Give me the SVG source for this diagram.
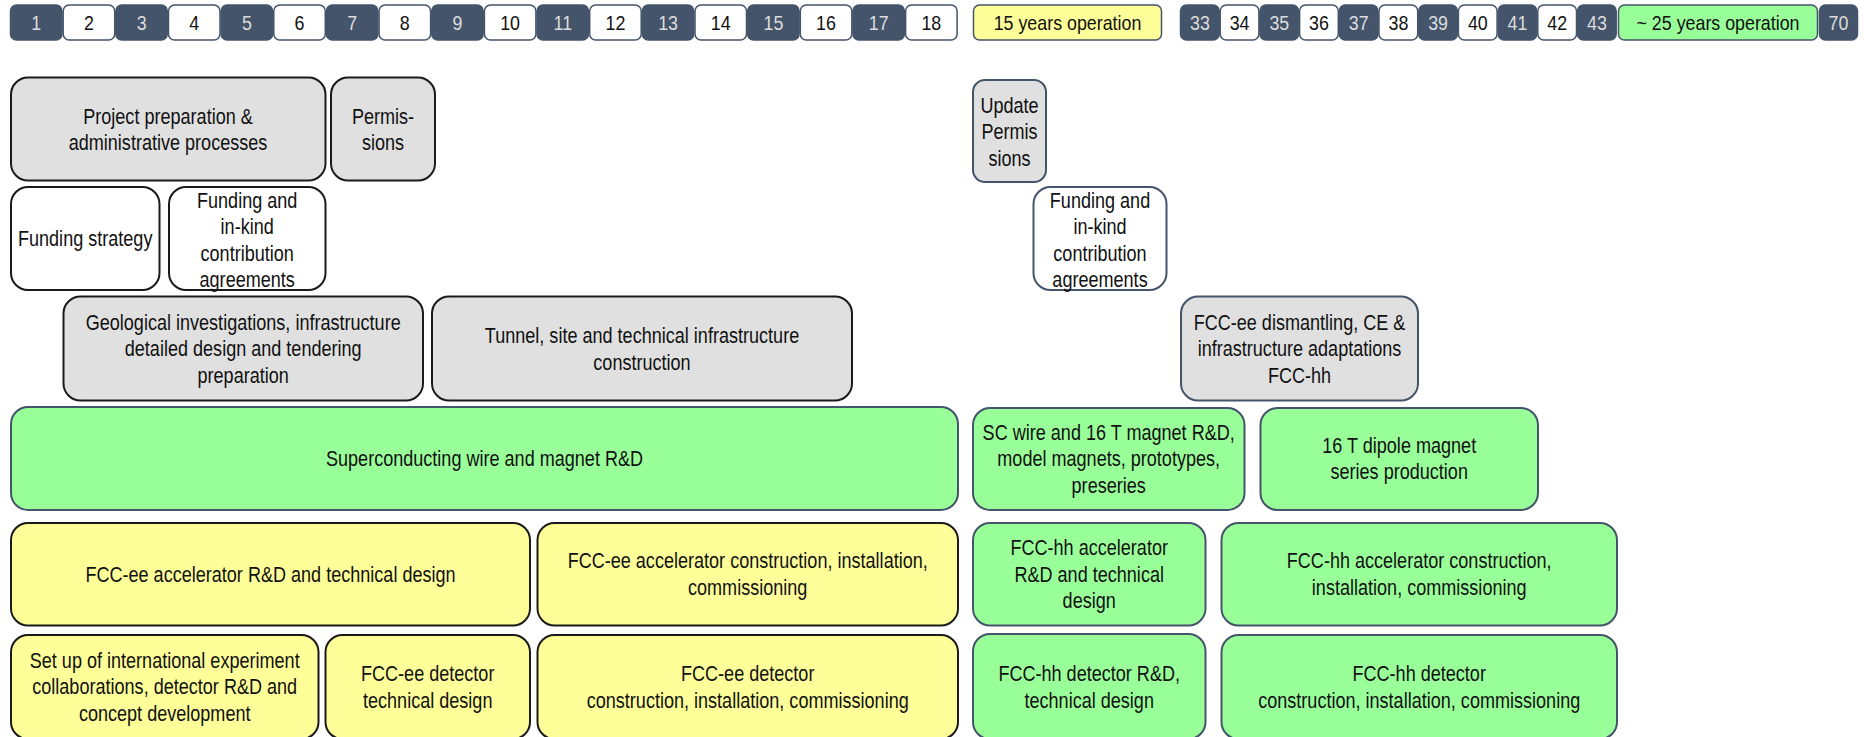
<svg xmlns="http://www.w3.org/2000/svg" width="1864" height="737" viewBox="0 0 1864 737">
<style>
text{font-family:"Liberation Sans Narrow","Liberation Sans",Arial,sans-serif;text-anchor:middle;fill:#111}
.n text{font-size:21.5px}
.t{font-size:21px}
.td{fill:#dcdcdc}
.dk{fill:#44546a;stroke:#44546a;stroke-width:1.5}
.wt{fill:#ffffff;stroke:#44546a;stroke-width:1.5}
.yl{fill:#ffff99;stroke:#44546a;stroke-width:1.5}
.gl{fill:#99ff99;stroke:#44546a;stroke-width:1.5}
.gb{fill:#e0e0e0;stroke:#1a1a1a;stroke-width:2}
.gs{fill:#e0e0e0;stroke:#44546a;stroke-width:2}
.wb{fill:#ffffff;stroke:#1a1a1a;stroke-width:2}
.ws{fill:#ffffff;stroke:#44546a;stroke-width:2}
.gg{fill:#99ff99;stroke:#44546a;stroke-width:2}
.yb{fill:#ffff99;stroke:#1a1a1a;stroke-width:2}
</style>
<g id="timeline">
<g id="y1"><rect class="dk" x="10.5" y="5" width="51.5" height="35" rx="6"/><text class="t td" transform="translate(36.2,30) scale(0.85,1)">1</text></g>
<g id="y2"><rect class="wt" x="63.2" y="5" width="51.5" height="35" rx="6"/><text class="t" transform="translate(88.9,30) scale(0.85,1)">2</text></g>
<g id="y3"><rect class="dk" x="115.8" y="5" width="51.5" height="35" rx="6"/><text class="t td" transform="translate(141.6,30) scale(0.85,1)">3</text></g>
<g id="y4"><rect class="wt" x="168.5" y="5" width="51.5" height="35" rx="6"/><text class="t" transform="translate(194.2,30) scale(0.85,1)">4</text></g>
<g id="y5"><rect class="dk" x="221.1" y="5" width="51.5" height="35" rx="6"/><text class="t td" transform="translate(246.9,30) scale(0.85,1)">5</text></g>
<g id="y6"><rect class="wt" x="273.8" y="5" width="51.5" height="35" rx="6"/><text class="t" transform="translate(299.5,30) scale(0.85,1)">6</text></g>
<g id="y7"><rect class="dk" x="326.4" y="5" width="51.5" height="35" rx="6"/><text class="t td" transform="translate(352.2,30) scale(0.85,1)">7</text></g>
<g id="y8"><rect class="wt" x="379.1" y="5" width="51.5" height="35" rx="6"/><text class="t" transform="translate(404.8,30) scale(0.85,1)">8</text></g>
<g id="y9"><rect class="dk" x="431.7" y="5" width="51.5" height="35" rx="6"/><text class="t td" transform="translate(457.5,30) scale(0.85,1)">9</text></g>
<g id="y10"><rect class="wt" x="484.4" y="5" width="51.5" height="35" rx="6"/><text class="t" transform="translate(510.1,30) scale(0.85,1)">10</text></g>
<g id="y11"><rect class="dk" x="537" y="5" width="51.5" height="35" rx="6"/><text class="t td" transform="translate(562.8,30) scale(0.85,1)">11</text></g>
<g id="y12"><rect class="wt" x="589.7" y="5" width="51.5" height="35" rx="6"/><text class="t" transform="translate(615.4,30) scale(0.85,1)">12</text></g>
<g id="y13"><rect class="dk" x="642.3" y="5" width="51.5" height="35" rx="6"/><text class="t td" transform="translate(668.1,30) scale(0.85,1)">13</text></g>
<g id="y14"><rect class="wt" x="695" y="5" width="51.5" height="35" rx="6"/><text class="t" transform="translate(720.7,30) scale(0.85,1)">14</text></g>
<g id="y15"><rect class="dk" x="747.6" y="5" width="51.5" height="35" rx="6"/><text class="t td" transform="translate(773.4,30) scale(0.85,1)">15</text></g>
<g id="y16"><rect class="wt" x="800.3" y="5" width="51.5" height="35" rx="6"/><text class="t" transform="translate(826,30) scale(0.85,1)">16</text></g>
<g id="y17"><rect class="dk" x="852.9" y="5" width="51.5" height="35" rx="6"/><text class="t td" transform="translate(878.7,30) scale(0.85,1)">17</text></g>
<g id="y18"><rect class="wt" x="905.6" y="5" width="51.5" height="35" rx="6"/><text class="t" transform="translate(931.3,30) scale(0.85,1)">18</text></g>
<g id="op15"><rect class="yl" x="973.5" y="5" width="188" height="35" rx="6"/><text class="t" transform="translate(1067.5,30) scale(0.85,1)">15 years operation</text></g>
<g id="y33"><rect class="dk" x="1180.5" y="5" width="38.7" height="35" rx="6"/><text class="t td" transform="translate(1199.9,30) scale(0.85,1)">33</text></g>
<g id="y34"><rect class="wt" x="1220.2" y="5" width="38.7" height="35" rx="6"/><text class="t" transform="translate(1239.6,30) scale(0.85,1)">34</text></g>
<g id="y35"><rect class="dk" x="1259.9" y="5" width="38.7" height="35" rx="6"/><text class="t td" transform="translate(1279.3,30) scale(0.85,1)">35</text></g>
<g id="y36"><rect class="wt" x="1299.6" y="5" width="38.7" height="35" rx="6"/><text class="t" transform="translate(1319,30) scale(0.85,1)">36</text></g>
<g id="y37"><rect class="dk" x="1339.3" y="5" width="38.7" height="35" rx="6"/><text class="t td" transform="translate(1358.7,30) scale(0.85,1)">37</text></g>
<g id="y38"><rect class="wt" x="1379" y="5" width="38.7" height="35" rx="6"/><text class="t" transform="translate(1398.4,30) scale(0.85,1)">38</text></g>
<g id="y39"><rect class="dk" x="1418.7" y="5" width="38.7" height="35" rx="6"/><text class="t td" transform="translate(1438.1,30) scale(0.85,1)">39</text></g>
<g id="y40"><rect class="wt" x="1458.4" y="5" width="38.7" height="35" rx="6"/><text class="t" transform="translate(1477.8,30) scale(0.85,1)">40</text></g>
<g id="y41"><rect class="dk" x="1498.1" y="5" width="38.7" height="35" rx="6"/><text class="t td" transform="translate(1517.5,30) scale(0.85,1)">41</text></g>
<g id="y42"><rect class="wt" x="1537.8" y="5" width="38.7" height="35" rx="6"/><text class="t" transform="translate(1557.2,30) scale(0.85,1)">42</text></g>
<g id="y43"><rect class="dk" x="1577.5" y="5" width="38.7" height="35" rx="6"/><text class="t td" transform="translate(1596.9,30) scale(0.85,1)">43</text></g>
<g id="op25"><rect class="gl" x="1618.5" y="5" width="199" height="35" rx="6"/><text class="t" transform="translate(1718,30) scale(0.85,1)">~ 25 years operation</text></g>
<g id="y70"><rect class="dk" x="1819.5" y="5" width="38" height="35" rx="6"/><text class="t td" transform="translate(1838.5,30) scale(0.85,1)">70</text></g>
</g>

<g id="project-prep"><rect class="gb" x="11" y="77.5" width="314.5" height="103" rx="17"/>
<g class="n" transform="translate(168,0) scale(0.84,1)"><text y="124">Project preparation &amp;</text><text y="150.5">administrative processes</text></g></g>
<g id="permissions"><rect class="gb" x="331" y="77.5" width="104" height="103" rx="17"/>
<g class="n" transform="translate(383,0) scale(0.84,1)"><text y="124">Permis-</text><text y="150.5">sions</text></g></g>
<g id="update-permissions"><rect class="gs" x="973" y="80" width="73" height="102" rx="12"/>
<g class="n" transform="translate(1009.5,0) scale(0.84,1)"><text y="113">Update</text><text y="139.5">Permis</text><text y="166">sions</text></g></g>

<g id="funding-strategy"><rect class="wb" x="11" y="187" width="148.5" height="103" rx="17"/>
<g class="n" transform="translate(85.2,0) scale(0.84,1)"><text y="246">Funding strategy</text></g></g>
<g id="funding-agreements-ee"><rect class="wb" x="169" y="187" width="156.5" height="103" rx="17"/>
<g class="n" transform="translate(247.2,0) scale(0.84,1)"><text y="208">Funding and</text><text y="234.5">in-kind</text><text y="261">contribution</text><text y="287.5">agreements</text></g></g>
<g id="funding-agreements-hh"><rect class="ws" x="1033.5" y="187" width="133" height="103" rx="17"/>
<g class="n" transform="translate(1100,0) scale(0.84,1)"><text y="208">Funding and</text><text y="234.5">in-kind</text><text y="261">contribution</text><text y="287.5">agreements</text></g></g>

<g id="geological"><rect class="gb" x="63.5" y="296.5" width="359.5" height="104" rx="17"/>
<g class="n" transform="translate(243.2,0) scale(0.84,1)"><text y="330">Geological investigations, infrastructure</text><text y="356.5">detailed design and tendering</text><text y="383">preparation</text></g></g>
<g id="tunnel"><rect class="gb" x="432" y="296.5" width="420" height="104" rx="17"/>
<g class="n" transform="translate(642,0) scale(0.84,1)"><text y="343.5">Tunnel, site and technical infrastructure</text><text y="370">construction</text></g></g>
<g id="dismantling"><rect class="gs" x="1181" y="296.5" width="237" height="104" rx="17"/>
<g class="n" transform="translate(1299.5,0) scale(0.84,1)"><text y="330">FCC-ee dismantling, CE &amp;</text><text y="356.5">infrastructure adaptations</text><text y="383">FCC-hh</text></g></g>

<g id="sc-wire-rd"><rect class="gg" x="11" y="407" width="947" height="103" rx="17"/>
<g class="n" transform="translate(484.5,0) scale(0.84,1)"><text y="466.5">Superconducting wire and magnet R&amp;D</text></g></g>
<g id="sc-16t"><rect class="gg" x="973" y="408" width="271.5" height="102" rx="17"/>
<g class="n" transform="translate(1108.7,0) scale(0.84,1)"><text y="440">SC wire and 16 T magnet R&amp;D,</text><text y="466.5">model magnets, prototypes,</text><text y="493">preseries</text></g></g>
<g id="dipole"><rect class="gg" x="1260.5" y="408" width="277.5" height="102" rx="17"/>
<g class="n" transform="translate(1399.2,0) scale(0.84,1)"><text y="453">16 T dipole magnet</text><text y="479.5">series production</text></g></g>

<g id="ee-acc-rd"><rect class="yb" x="11" y="523" width="519" height="102.5" rx="17"/>
<g class="n" transform="translate(270.5,0) scale(0.84,1)"><text y="582">FCC-ee accelerator R&amp;D and technical design</text></g></g>
<g id="ee-acc-construction"><rect class="yb" x="537.5" y="523" width="420.5" height="102.5" rx="17"/>
<g class="n" transform="translate(747.7,0) scale(0.84,1)"><text y="568.5">FCC-ee accelerator construction, installation,</text><text y="595">commissioning</text></g></g>
<g id="hh-acc-rd"><rect class="gg" x="973" y="523" width="232.5" height="102.5" rx="17"/>
<g class="n" transform="translate(1089.2,0) scale(0.84,1)"><text y="555.5">FCC-hh accelerator</text><text y="582">R&amp;D and technical</text><text y="608.5">design</text></g></g>
<g id="hh-acc-construction"><rect class="gg" x="1221.5" y="523" width="395.5" height="102.5" rx="17"/>
<g class="n" transform="translate(1419.2,0) scale(0.84,1)"><text y="568.5">FCC-hh accelerator construction,</text><text y="595">installation, commissioning</text></g></g>

<g id="collaborations"><rect class="yb" x="11" y="635" width="307.5" height="104" rx="17"/>
<g class="n" transform="translate(164.7,0) scale(0.84,1)"><text y="668">Set up of international experiment</text><text y="694.5">collaborations, detector R&amp;D and</text><text y="721">concept development</text></g></g>
<g id="ee-det-design"><rect class="yb" x="325.5" y="635" width="204.5" height="104" rx="17"/>
<g class="n" transform="translate(427.7,0) scale(0.84,1)"><text y="681.5">FCC-ee detector</text><text y="708">technical design</text></g></g>
<g id="ee-det-construction"><rect class="yb" x="537.5" y="635" width="420.5" height="104" rx="17"/>
<g class="n" transform="translate(747.7,0) scale(0.84,1)"><text y="681.5">FCC-ee detector</text><text y="708">construction, installation, commissioning</text></g></g>
<g id="hh-det-rd"><rect class="gg" x="973" y="634" width="232.5" height="105" rx="17"/>
<g class="n" transform="translate(1089.2,0) scale(0.84,1)"><text y="681.5">FCC-hh detector R&amp;D,</text><text y="708">technical design</text></g></g>
<g id="hh-det-construction"><rect class="gg" x="1221.5" y="635" width="395.5" height="104" rx="17"/>
<g class="n" transform="translate(1419.2,0) scale(0.84,1)"><text y="681.5">FCC-hh detector</text><text y="708">construction, installation, commissioning</text></g></g>
<g id="connectors"/>
</svg>
